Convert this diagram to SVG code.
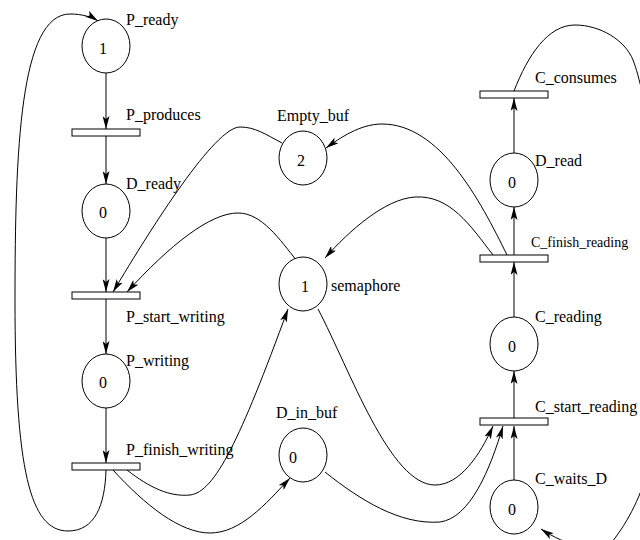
<svg xmlns="http://www.w3.org/2000/svg" width="640" height="540" viewBox="0 0 640 540">
<style>
.pl{fill:#fff;stroke:#000;stroke-width:1}
.tr{fill:#fff;stroke:#000;stroke-width:1}
.e{fill:none;stroke:#000;stroke-width:1;marker-end:url(#ah)}
text{font-family:"Liberation Serif","Times New Roman",serif;font-size:16px;fill:#000}
.tk{text-anchor:middle}
</style>
<defs>
<marker id="ah" viewBox="0 0 13 7" refX="13" refY="3.5" markerWidth="13" markerHeight="7" markerUnits="userSpaceOnUse" orient="auto">
<path d="M0,0 L13,3.5 L0,7 L3,3.5 Z" fill="#000"/>
</marker>
</defs>
<rect width="640" height="540" fill="#fff"/>
<g id="connectors">
<path class="e" d="M106,73 L106,129"/>
<path class="e" d="M106,136 L106,184"/>
<path class="e" d="M106,238 L106,292"/>
<path class="e" d="M106,299 L106,354"/>
<path class="e" d="M106,408 L106,463"/>
<path class="e" d="M106,470 C105,505 95,531 68,531 C30,531 15,470 15,300 C15,150 20,14 70,14 C82,14 92,17 98,21"/>
<path class="e" d="M282,143 C265,134 255,127 240,127 C215,127 153,225 113,292"/>
<path class="e" d="M297,261 C280,240 262,213 238,213 C210,213 170,245 127,292"/>
<path class="e" d="M127,470 C150,488 170,497 190,495 C215,492 240,440 288,309"/>
<path class="e" d="M113,470 C145,505 180,533 210,533 C240,533 265,505 290,478"/>
<path class="e" d="M318,309 C350,370 390,485 435,485 C460,485 480,455 493,426"/>
<path class="e" d="M325,472 C360,500 400,525 440,522 C470,518 490,470 503,426"/>
<path class="e" d="M514,480 L514,426"/>
<path class="e" d="M514,418 L514,371"/>
<path class="e" d="M514,317 L514,262"/>
<path class="e" d="M514,255 L514,207"/>
<path class="e" d="M514,153 L514,98"/>
<path class="e" d="M514,91 C528,55 548,25 575,25 C600,25 625,40 633,60 C645,90 665,200 665,320 C665,440 645,500 612,542 C600,556 565,545 541,529"/>
<path class="e" d="M507,255 C480,200 440,124 382,124 C360,124 340,138 326,148"/>
<path class="e" d="M493,255 C470,225 450,195 415,197 C385,199 350,230 325,258"/>
</g>
<g id="P_ready"><ellipse class="pl" cx="106" cy="46" rx="24" ry="27"/><text class="tk" x="103" y="54">1</text><text x="126" y="25">P_ready</text></g>
<g id="P_produces"><rect class="tr" x="72" y="129" width="68" height="7"/><text x="126" y="120">P_produces</text></g>
<g id="D_ready"><ellipse class="pl" cx="106" cy="211" rx="24" ry="27"/><text class="tk" x="103" y="218">0</text><text x="126" y="189">D_ready</text></g>
<g id="P_start_writing"><rect class="tr" x="72" y="292" width="68" height="7"/><text x="126" y="322">P_start_writing</text></g>
<g id="P_writing"><ellipse class="pl" cx="106" cy="381" rx="24" ry="27"/><text class="tk" x="103" y="388">0</text><text x="126" y="366">P_writing</text></g>
<g id="P_finish_writing"><rect class="tr" x="72" y="463" width="68" height="7"/><text x="126" y="455">P_finish_writing</text></g>
<g id="Empty_buf"><ellipse class="pl" cx="303" cy="158" rx="24" ry="27"/><text class="tk" x="301" y="166">2</text><text x="277" y="121">Empty_buf</text></g>
<g id="semaphore"><ellipse class="pl" cx="303" cy="284" rx="24" ry="27"/><text class="tk" x="305" y="292">1</text><text x="331" y="291">semaphore</text></g>
<g id="D_in_buf"><ellipse class="pl" cx="303" cy="455" rx="24" ry="27"/><text class="tk" x="293" y="463">0</text><text x="276" y="418">D_in_buf</text></g>
<g id="C_consumes"><rect class="tr" x="480" y="91" width="68" height="7"/><text x="535" y="83">C_consumes</text></g>
<g id="D_read"><ellipse class="pl" cx="514" cy="180" rx="24" ry="27"/><text class="tk" x="512" y="188">0</text><text x="535" y="166">D_read</text></g>
<g id="C_finish_reading"><rect class="tr" x="480" y="255" width="68" height="7"/><text x="531" y="247" style="font-size:14px">C_finish_reading</text></g>
<g id="C_reading"><ellipse class="pl" cx="514" cy="344" rx="24" ry="27"/><text class="tk" x="512" y="352">0</text><text x="535" y="322">C_reading</text></g>
<g id="C_start_reading"><rect class="tr" x="480" y="418" width="68" height="7"/><text x="535" y="412">C_start_reading</text></g>
<g id="C_waits_D"><ellipse class="pl" cx="514" cy="507" rx="24" ry="27"/><text class="tk" x="512" y="515">0</text><text x="535" y="484">C_waits_D</text></g>
</svg>
